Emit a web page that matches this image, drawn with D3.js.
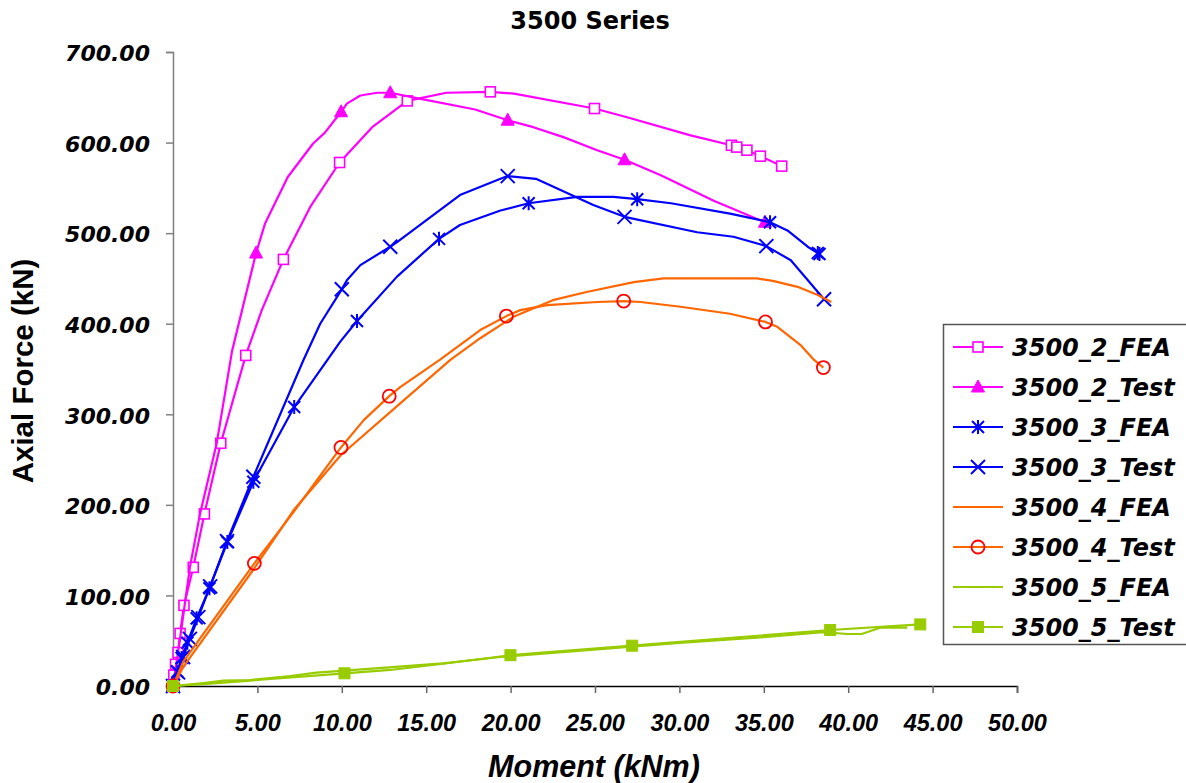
<!DOCTYPE html>
<html>
<head>
<meta charset="utf-8">
<script src="https://cdn.jsdelivr.net/npm/d3@7"></script>
<style>
  html, body { margin: 0; padding: 0; background: #fff; }
  svg { display: block; }
</style>
</head>
<body>
<svg id="chart" width="1186" height="783"></svg>
<script>
// ---------- DATA ----------
const chartTitle = "3500 Series";
const xTitle = "Moment (kNm)";
const yTitle = "Axial Force (kN)";
const xTicks = [0, 5, 10, 15, 20, 25, 30, 35, 40, 45, 50];
const yTicks = [0, 100, 200, 300, 400, 500, 600, 700];
const seriesNames = ["3500_2_FEA", "3500_2_Test", "3500_3_FEA", "3500_3_Test",
                     "3500_4_FEA", "3500_4_Test", "3500_5_FEA", "3500_5_Test"];

// line points [moment, force]
const s2FEA = [[0,0],[0.05,12],[0.15,24],[0.3,37],[0.42,58],[0.65,89],[1.2,131],[1.86,190],[2.83,268],
  [4.31,365],[5.26,415],[6.54,471],[8.13,529],[9.87,578],[11.8,617],[12.87,632],[13.88,646],[16.2,655],
  [18.8,656],[20.2,654],[24.97,637.6],[26.9,628],[30.66,608],[33.08,597],[33.4,595],[34.0,591.6],[34.8,585],[36.06,574]];
const s2FEAMarks = [[0,0],[0.05,12],[0.15,24],[0.3,37],[0.42,58],[0.65,89],[1.2,131],[1.86,190],[2.83,268],
  [4.31,365],[6.54,471],[9.87,578],[13.88,646],[18.8,656],[24.97,637.6],[33.08,597],[33.4,595],[34.0,591.6],[34.8,585],[36.06,574]];

const s2Test = [[0,0],[0.4,50],[1.0,131],[1.6,190],[2.59,268],[3.5,370],[4.92,478],[5.46,511],[6.8,562],
  [8.3,599],[9.0,611],[9.96,634],[10.3,643],[11.1,652],[12.1,655],[12.87,655],[14.45,649],[17.9,636.5],
  [19.83,624.7],[21.35,617],[23.13,606],[25.13,591.6],[26.75,581],[28.9,564],[32.0,536],[35.07,512]];
const s2TestMarks = [[0,0],[4.92,478],[9.96,634],[12.87,655],[19.83,624.7],[26.75,581],[35.07,512]];

const s3FEA = [[0,0],[0.26,15.8],[0.51,31],[0.85,47.8],[1.4,74.7],[2.16,108],[3.22,159],[4.76,225.5],
  [7.18,308],[9.9,380],[10.9,403],[13.27,452],[15.76,493.7],[17.0,509],[19.4,525],[21.07,533],[23.94,540],
  [26.1,540],[27.5,537.5],[29.5,533],[33.0,521.6],[35.37,512],[36.4,503],[37.6,485],[38.2,478]];
const s3FEAMarks = [[0,0],[0.26,15.8],[0.51,31],[0.85,47.8],[1.4,74.7],[2.16,108],[3.22,159],[4.76,225.5],
  [7.18,308],[10.9,403],[15.76,493.7],[21.07,533],[27.5,537.5],[35.37,512],[38.2,478],[38.3,477]];

const s3Test = [[0,0],[0.3,15],[0.6,32],[1.0,52],[1.5,76],[2.2,110],[3.2,160],[4.76,231],
  [7.73,360],[8.72,400],[10.0,438],[10.3,448],[11.1,464.7],[12.87,485],[13.27,490],[17.0,542],[19.4,560],
  [19.83,563],[21.5,560],[24.9,531],[26.75,518],[31.05,501],[33.2,496],[35.15,485.7],[36.6,470],[38.57,427]];
const s3TestMarks = [[0,0],[0.3,15],[0.6,32],[1.0,52],[1.5,76],[2.2,110],[3.2,160],[4.76,231],
  [10.0,438],[12.87,485],[19.83,563],[26.75,518],[35.15,485.7],[38.57,427]];

const s4FEA = [[0,0],[0.61,21],[4.82,130],[7.14,194],[9.95,255],[13.46,312],[16.43,360],[18.2,384],
  [20.17,407.6],[22.5,426],[24.5,435],[27.3,446],[29.06,450],[34.6,450],[35.6,447],[37.0,440.7],[38.2,431.6],[39.0,424]];

const s4Test = [[0,0],[0.61,27],[4.82,135.4],[7.14,192],[9.95,263.4],[11.3,293.6],[12.81,320],[13.46,330],
  [15.8,360],[18.2,393],[19.75,408.4],[20.58,415],[22.16,420.5],[25.13,424],[26.7,425],[27.7,424],[30.07,418.7],
  [33.0,411],[35.1,402],[35.8,396.6],[37.2,376],[37.98,360],[38.53,351.6]];
const s4TestMarks = [[0,0],[4.82,135.4],[9.95,263.4],[12.81,320],[19.75,408.4],[26.7,425],[35.1,402],[38.53,351.6]];

const s5FEA = [[0,0],[0.6,1],[1.8,3.3],[3.0,5.9],[4.57,6.6],[6.94,11],[8.5,14.7],[10.16,17],[16.0,25],
  [19.4,32],[25.3,40.8],[30.0,47.5],[35.0,54],[38.5,59.5],[39.95,57.4],[40.8,57.4],[41.9,64.4],[43.5,64.4]];

const s5Test = [[0,0],[1.8,2],[4.57,6],[10.16,14],[12.87,17.7],[16.0,24.6],[19.99,34],[27.2,44.5],[38.93,61.8],[44.27,68]];
const s5TestMarks = [[0,0],[10.16,14],[19.99,34],[27.2,44.5],[38.93,61.8],[44.27,68]];

// ---------- DRAW ----------
const svg = d3.select("#chart");
const x = d3.scaleLinear().domain([0, 50]).range([173, 1017]);
const y = d3.scaleLinear().domain([0, 700]).range([686, 52]);

const MAG = "#FF00FF", BLUE = "#0000FF", ORG = "#FF6600", RED = "#FF0000", GRN = "#99CC00";

// title
svg.append("text").attr("x", 590).attr("y", 29).attr("text-anchor", "middle")
  .style("font-family", "DejaVu Sans").style("font-weight", "bold").style("font-size", "24px")
  .text(chartTitle);

// y axis
const yAxis = d3.axisLeft(y).tickValues(yTicks).tickSize(7).tickFormat(d => d3.format(".2f")(d));
const gy = svg.append("g").attr("transform", "translate(173,0)").call(yAxis);
gy.select(".domain").attr("stroke", "#808080").attr("stroke-width", 1.5);
gy.selectAll(".tick line").attr("stroke", "#808080").attr("stroke-width", 1.5);
gy.selectAll(".tick text").attr("x", -23).attr("dy", "0.4em")
  .style("font-family", "DejaVu Sans").style("font-weight", "bold").style("font-style", "italic")
  .style("font-size", "22px").attr("fill", "#000");

// x axis
const xAxis = d3.axisBottom(x).tickValues(xTicks).tickSize(7).tickFormat(d => d3.format(".2f")(d));
const gx = svg.append("g").attr("transform", "translate(0,686)").call(xAxis);
gx.select(".domain").attr("stroke", "#000").attr("stroke-width", 1.5);
gx.selectAll(".tick line").attr("stroke", "#666").attr("stroke-width", 1.5);
gx.selectAll(".tick text").attr("y", 45).attr("dy", 0)
  .style("font-family", "Liberation Sans").style("font-weight", "bold").style("font-style", "italic")
  .style("font-size", "23.5px").attr("fill", "#000");

// axis titles
svg.append("text").attr("transform", "translate(33,371) rotate(-90)").attr("text-anchor", "middle")
  .style("font-family", "Liberation Sans").style("font-weight", "bold").style("font-size", "29.5px")
  .text(yTitle);
svg.append("text").attr("x", 594).attr("y", 777).attr("text-anchor", "middle")
  .style("font-family", "Liberation Sans").style("font-weight", "bold").style("font-style", "italic")
  .style("font-size", "30.5px").text(xTitle);

// markers
function drawMarker(g, type, px, py, stroke, fill) {
  if (type === "square") {
    g.append("rect").attr("x", px - 5).attr("y", py - 5).attr("width", 10).attr("height", 10)
      .attr("fill", "#fff").attr("stroke", stroke).attr("stroke-width", 1.6);
  } else if (type === "fsquare") {
    g.append("rect").attr("x", px - 5.5).attr("y", py - 5.5).attr("width", 11).attr("height", 11)
      .attr("fill", fill).attr("stroke", fill).attr("stroke-width", 1);
  } else if (type === "triangle") {
    g.append("path").attr("d", `M${px},${py - 7}L${px + 6.5},${py + 5}L${px - 6.5},${py + 5}Z`)
      .attr("fill", fill).attr("stroke", fill).attr("stroke-width", 1);
  } else if (type === "asterisk") {
    const r = 6;
    g.append("path").attr("d", `M${px - r},${py - r}L${px + r},${py + r}M${px + r},${py - r}L${px - r},${py + r}M${px},${py - r - 1}L${px},${py + r + 1}`)
      .attr("stroke", stroke).attr("stroke-width", 2).attr("fill", "none");
  } else if (type === "x") {
    const r = 7;
    g.append("path").attr("d", `M${px - r},${py - r}L${px + r},${py + r}M${px + r},${py - r}L${px - r},${py + r}`)
      .attr("stroke", stroke).attr("stroke-width", 2).attr("fill", "none");
  } else if (type === "circle") {
    g.append("circle").attr("cx", px).attr("cy", py).attr("r", 6.5)
      .attr("fill", "none").attr("stroke", stroke).attr("stroke-width", 1.8);
  }
}

const series = [
  { name: seriesNames[0], line: s2FEA, marks: s2FEAMarks, color: MAG, marker: "square", mstroke: MAG, mfill: "#fff" },
  { name: seriesNames[1], line: s2Test, marks: s2TestMarks, color: MAG, marker: "triangle", mstroke: MAG, mfill: MAG },
  { name: seriesNames[2], line: s3FEA, marks: s3FEAMarks, color: BLUE, marker: "asterisk", mstroke: BLUE, mfill: BLUE },
  { name: seriesNames[3], line: s3Test, marks: s3TestMarks, color: BLUE, marker: "x", mstroke: BLUE, mfill: BLUE },
  { name: seriesNames[4], line: s4FEA, marks: [], color: ORG, marker: null },
  { name: seriesNames[5], line: s4Test, marks: s4TestMarks, color: ORG, marker: "circle", mstroke: RED, mfill: "none" },
  { name: seriesNames[6], line: s5FEA, marks: [], color: GRN, marker: null },
  { name: seriesNames[7], line: s5Test, marks: s5TestMarks, color: GRN, marker: "fsquare", mstroke: GRN, mfill: GRN }
];

const lineGen = d3.line().x(d => x(d[0])).y(d => y(d[1])).curve(d3.curveLinear);
const plot = svg.append("g");
series.forEach(s => {
  const g = plot.append("g");
  g.append("path").attr("d", lineGen(s.line)).attr("fill", "none")
    .attr("stroke", s.color).attr("stroke-width", 2.2).attr("stroke-linejoin", "round");
  s.marks.forEach(m => drawMarker(g, s.marker, x(m[0]), y(m[1]), s.mstroke, s.mfill));
});

// legend
const lg = svg.append("g");
lg.append("rect").attr("x", 943.5).attr("y", 324.5).attr("width", 260).attr("height", 320)
  .attr("fill", "#fff").attr("stroke", "#555").attr("stroke-width", 1.5);
series.forEach((s, i) => {
  const cy = 347 + i * 40;
  lg.append("line").attr("x1", 953).attr("x2", 1003).attr("y1", cy).attr("y2", cy)
    .attr("stroke", s.color).attr("stroke-width", 2.2);
  if (s.marker) drawMarker(lg, s.marker, 978, cy, s.mstroke, s.mfill);
  lg.append("text").attr("x", 1012).attr("y", cy + 8.5)
    .style("font-family", "DejaVu Sans").style("font-weight", "bold").style("font-style", "italic")
    .style("font-size", "24px").text(s.name);
});
</script>
</body>
</html>
